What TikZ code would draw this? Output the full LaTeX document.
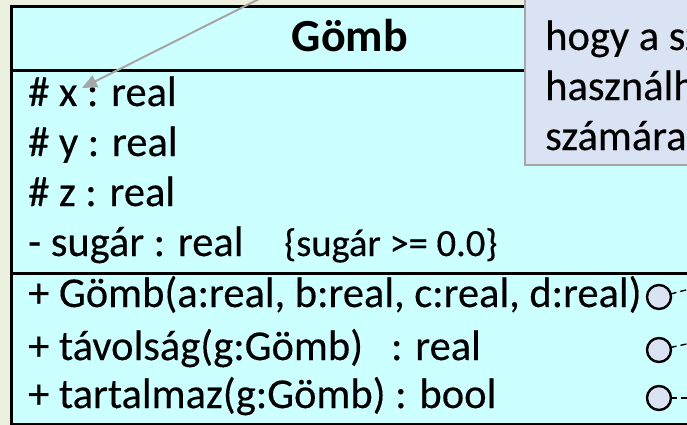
\documentclass[tikz,border=0pt]{standalone}
\usepackage{fontspec}
\setmainfont{Carlito}
\newfontfamily\umlfont{Carlito}[FakeBold=0.3]
\usetikzlibrary{arrows.meta}
\definecolor{pagebg}{HTML}{EBF1DE}
\definecolor{classfill}{HTML}{CCFFFF}
\definecolor{notefill}{HTML}{DAE3F3}
\definecolor{notedraw}{HTML}{A6A6A6}
\tikzset{
  row/.style={anchor=base west, inner sep=0pt, font=\umlfont\fontsize{42.5}{50}\selectfont},
  constraint/.style={anchor=base west, inner sep=0pt, font=\umlfont\fontsize{38.5}{46}\selectfont},
  title/.style={anchor=base, inner sep=0pt, font=\fontsize{46}{54}\selectfont\bfseries},
  notetext/.style={anchor=base west, inner sep=0pt, font=\umlfont\fontsize{42.5}{50}\selectfont},
  anchorcirc/.style={circle, draw=black, line width=2.4pt, fill=notefill, minimum size=24pt, inner sep=0pt, outer sep=0pt},
  noteline/.style={draw=black, line width=1.4pt, dash pattern=on 6pt off 4pt},
  pointer/.style={draw=notedraw, line width=2pt, -{Triangle[length=15pt,width=13pt]}}
}
\begin{document}
\begin{tikzpicture}[x=1pt, y=-1pt]
  \useasboundingbox (0,0) rectangle (687,425);
  \clip (0,0) rectangle (687,425);
  \fill[pagebg] (0,0) rectangle (687,425);

  % class box with compartments
  \draw[fill=classfill, line width=3pt] (11,7) rectangle (720,424);
  \draw[line width=3pt] (11,71) -- (720,71);
  \draw[line width=3pt] (11,273) -- (720,273);

  \node[title] (name) at (350,52) {Gömb};
  \node[row] (ax) at (28,106) {\# x : real};
  \node[row] (ay) at (28,156) {\# y : real};
  \node[row] (az) at (28,206) {\# z : real};
  \node[row] (ar) at (28,256) {- sugár : real};
  \node[constraint] (cr) at (284,256) {\{sugár >= 0.0\}};
  \node[row] (o1) at (28,307) {+ Gömb(a:real, b:real, c:real, d:real)};
  \node[row] (o2) at (28,360) {+ távolság(g:Gömb)\hspace{28pt}: real};
  \node[row] (o3) at (28,408) {+ tartalmaz(g:Gömb) : bool};

  % note anchors on the operations
  \node[anchorcirc] (c1) at (659,297) {};
  \node[anchorcirc] (c2) at (659,350) {};
  \node[anchorcirc] (c3) at (659,398) {};
  \coordinate (e1) at (705,285);
  \coordinate (e2) at (705,340);
  \coordinate (e3) at (705,398);
  \draw[noteline] (c1) -- (e1);
  \draw[noteline] (c2) -- (e2);
  \draw[noteline] (c3) -- (e3);

  % comment note
  \draw[fill=notefill, draw=notedraw, line width=1.5pt] (525,-10) rectangle (720,165);
  \node[notetext] (n1) at (545,50) {hogy a sz};
  \node[notetext] (n2) at (545,100) {használh};
  \node[notetext] (n3) at (545,150) {számára};

  % pointer from the note to attribute x
  \coordinate (src) at (297,-20);
  \draw[pointer] (src) -- (82,88);
\end{tikzpicture}
\end{document}
